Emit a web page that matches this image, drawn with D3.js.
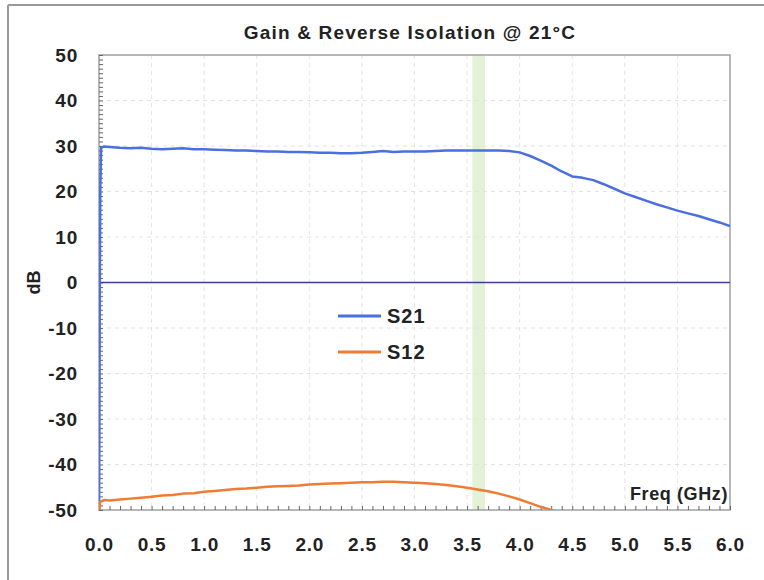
<!DOCTYPE html>
<html>
<head>
<meta charset="utf-8">
<script src="https://cdn.jsdelivr.net/npm/d3@7"></script>
<style>
  html, body { margin: 0; padding: 0; background: #fff; }
  svg { display: block; }
  text { font-family: "Liberation Sans", Arial, sans-serif; fill: #222; }
</style>
</head>
<body>
<svg id="chart" width="764" height="580"></svg>
<script>
const title = "Gain & Reverse Isolation @ 21°C";
const xTicks = [0.0, 0.5, 1.0, 1.5, 2.0, 2.5, 3.0, 3.5, 4.0, 4.5, 5.0, 5.5, 6.0];
const yTicks = [-50, -40, -30, -20, -10, 0, 10, 20, 30, 40, 50];
const band = [3.55, 3.67];

const s21Freq = [0, 0.004, 0.008, 0.012, 0.02, 0.05, 0.1, 0.2, 0.3, 0.4, 0.5, 0.6, 0.7, 0.8, 0.9, 1.0,
  1.1, 1.2, 1.3, 1.4, 1.5, 1.6, 1.7, 1.8, 1.9, 2.0, 2.1, 2.2, 2.3, 2.4, 2.5, 2.6, 2.7, 2.8, 2.9, 3.0,
  3.1, 3.2, 3.3, 3.4, 3.5, 3.6, 3.7, 3.8, 3.9, 4.0, 4.1, 4.2, 4.3, 4.4, 4.5, 4.6, 4.7, 4.8, 4.9, 5.0,
  5.1, 5.2, 5.3, 5.4, 5.5, 5.6, 5.7, 5.8, 5.9, 6.0];
const s21 = [-55, -30, 0, 20, 29.6, 29.9, 29.8, 29.6, 29.5, 29.6, 29.4, 29.3, 29.4, 29.5, 29.3, 29.3,
  29.2, 29.1, 29.0, 29.0, 28.9, 28.8, 28.8, 28.7, 28.7, 28.6, 28.5, 28.5, 28.4, 28.4, 28.5, 28.7, 28.9, 28.7, 28.8, 28.8,
  28.8, 28.9, 29.0, 29.0, 29.0, 29.0, 29.0, 29.0, 28.9, 28.6, 27.8, 26.8, 25.7, 24.4, 23.3, 23.0, 22.5, 21.6, 20.6, 19.6,
  18.8, 18.0, 17.2, 16.5, 15.8, 15.2, 14.6, 13.9, 13.2, 12.4];

const s12Freq = [0, 0.01, 0.05, 0.1, 0.2, 0.3, 0.4, 0.5, 0.6, 0.7, 0.8, 0.9, 1.0,
  1.1, 1.2, 1.3, 1.4, 1.5, 1.6, 1.7, 1.8, 1.9, 2.0, 2.1, 2.2, 2.3, 2.4, 2.5, 2.6, 2.7, 2.8, 2.9, 3.0,
  3.1, 3.2, 3.3, 3.4, 3.5, 3.6, 3.7, 3.8, 3.9, 4.0, 4.1, 4.2, 4.3, 4.4];
const s12 = [-50.5, -48.2, -47.8, -47.9, -47.7, -47.5, -47.3, -47.1, -46.8, -46.7, -46.4, -46.3, -46.0,
  -45.8, -45.6, -45.4, -45.3, -45.1, -44.9, -44.8, -44.7, -44.6, -44.4, -44.3, -44.2, -44.1, -44.0, -43.9, -43.9, -43.8, -43.8, -43.9, -44.0,
  -44.1, -44.3, -44.5, -44.8, -45.1, -45.5, -45.9, -46.4, -47.0, -47.7, -48.5, -49.3, -50.0, -50.6];

const series = [
  { name: "S21", freq: s21Freq, values: s21, color: "#4a6fe0" },
  { name: "S12", freq: s12Freq, values: s12, color: "#f07b32" }
];

const svg = d3.select("#chart");
const L = 99, R = 730, T = 55, B = 510;
const x = d3.scaleLinear().domain([0, 6]).range([L, R]);
const y = d3.scaleLinear().domain([-50, 50]).range([B, T]);

// outer frame
svg.append("line").attr("x1", 8).attr("y1", 5).attr("x2", 764).attr("y2", 5).attr("stroke", "#999").attr("stroke-width", 2);
svg.append("line").attr("x1", 8).attr("y1", 5).attr("x2", 8).attr("y2", 580).attr("stroke", "#999").attr("stroke-width", 2);

// title
svg.append("text").attr("x", 410).attr("y", 39).attr("text-anchor", "middle")
  .attr("font-size", 19).attr("font-weight", "bold").attr("letter-spacing", 1.2).attr("fill", "#333").text(title);

// band
svg.append("rect").attr("x", x(band[0])).attr("y", T).attr("width", x(band[1]) - x(band[0])).attr("height", B - T)
  .attr("fill", "#e3f1d6");

// gridlines
const grid = svg.append("g").attr("stroke", "#e2e2e2").attr("stroke-width", 1).attr("stroke-dasharray", "4,4");
grid.selectAll(".gx").data(xTicks.slice(1, -1)).join("line")
  .attr("x1", d => x(d)).attr("x2", d => x(d)).attr("y1", T).attr("y2", B);
grid.selectAll(".gy").data(yTicks.slice(1, -1)).join("line")
  .attr("x1", L).attr("x2", R).attr("y1", d => y(d)).attr("y2", d => y(d));

// plot frame
svg.append("rect").attr("x", L).attr("y", T).attr("width", R - L).attr("height", B - T)
  .attr("fill", "none").attr("stroke", "#a0a0a0").attr("stroke-width", 1.5);

// minor ticks (inside)
const minorY = d3.range(-50, 51, 1);
const minorX = d3.range(0, 6.001, 0.1);
svg.append("g").attr("transform", `translate(${L},0)`)
  .call(d3.axisRight(y).tickValues(minorY).tickSize(4).tickFormat(""))
  .call(g => g.select(".domain").remove())
  .call(g => g.selectAll("line").attr("stroke", "#666"));
svg.append("g").attr("transform", `translate(0,${B})`)
  .call(d3.axisTop(x).tickValues(minorX).tickSize(4).tickFormat(""))
  .call(g => g.select(".domain").remove())
  .call(g => g.selectAll("line").attr("stroke", "#666"));

// major tick labels
const tickStyle = g => g.selectAll("text").attr("font-size", 19).attr("font-weight", "bold").attr("fill", "#222")
  .attr("letter-spacing", 0.8).attr("font-family", "Liberation Sans, Arial, sans-serif");
svg.append("g").attr("transform", `translate(${L},0)`)
  .call(d3.axisLeft(y).tickValues(yTicks).tickSize(0).tickPadding(21).tickFormat(d => String(d)))
  .call(g => g.select(".domain").remove())
  .call(tickStyle);
svg.append("g").attr("transform", `translate(0,${B})`)
  .call(d3.axisBottom(x).tickValues(xTicks).tickSize(0).tickPadding(28).tickFormat(d => d.toFixed(1)))
  .call(g => g.select(".domain").remove())
  .call(tickStyle);

// axis titles
svg.append("text").attr("transform", `translate(40,${y(0)}) rotate(-90)`).attr("text-anchor", "middle")
  .attr("font-size", 18).attr("font-weight", "bold").text("dB");
svg.append("text").attr("x", R - 2).attr("y", 500).attr("text-anchor", "end")
  .attr("font-size", 18).attr("font-weight", "bold").attr("letter-spacing", 0.6).text("Freq (GHz)");

// zero line
svg.append("line").attr("x1", L).attr("x2", R).attr("y1", y(0)).attr("y2", y(0))
  .attr("stroke", "#3c3c99").attr("stroke-width", 1.5);

// clip
svg.append("clipPath").attr("id", "clip").append("rect")
  .attr("x", L).attr("y", T).attr("width", R - L).attr("height", B - T);

const line = d3.line().x(d => x(d[0])).y(d => y(d[1]));
svg.append("g").attr("clip-path", "url(#clip)")
  .selectAll("path").data(series).join("path")
  .attr("d", s => line(s.freq.map((f, i) => [f, s.values[i]])))
  .attr("fill", "none").attr("stroke", s => s.color).attr("stroke-width", 2.5).attr("stroke-linejoin", "round");

// legend
const leg = svg.append("g");
series.forEach((s, i) => {
  const ly = 316 + i * 36;
  leg.append("line").attr("x1", 338).attr("x2", 381).attr("y1", ly).attr("y2", ly)
    .attr("stroke", s.color).attr("stroke-width", 3);
  leg.append("text").attr("x", 387).attr("y", ly + 7).attr("font-size", 20).attr("font-weight", "bold")
    .attr("letter-spacing", 1).text(s.name);
});
</script>
</body>
</html>
